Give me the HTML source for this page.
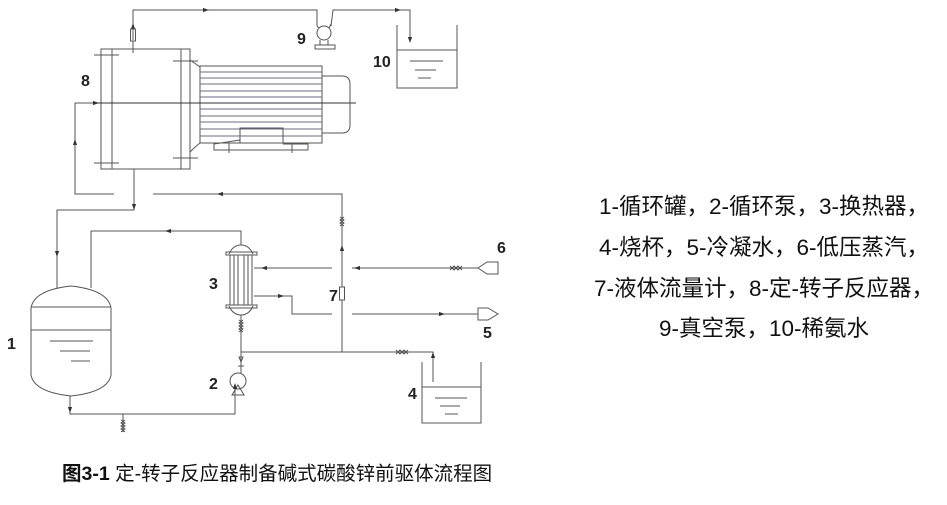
<!DOCTYPE html>
<html><head><meta charset="utf-8"><style>
body{margin:0;background:#fff;}
svg{display:block}
text{font-family:"Liberation Sans","Noto Sans CJK SC",sans-serif;}
</style></head><body>
<svg width="947" height="505" viewBox="0 0 947 505" xmlns="http://www.w3.org/2000/svg">
<defs>
<marker id="a" viewBox="0 0 10 10" refX="5" refY="5" markerWidth="8" markerHeight="6" orient="auto"><path d="M0,1.5 L10,5 L0,8.5z" fill="#333"/></marker>
</defs>
<g fill="none" stroke="#555" stroke-width="1">
<polyline points="133,40 133,10 317,10 317,26"/>
<path d="M190,10 L206,10" marker-end="url(#a)"/>
<path d="M133,32 L133,26" marker-end="url(#a)"/>
<rect x="130.5" y="29" width="5" height="12"/>
<line x1="133" y1="41" x2="133" y2="53"/>
<circle cx="324" cy="33" r="7"/>
<path d="M317,26 L319,28 M331,24 L329,28"/>
<path d="M320,40 L320,45 M328,40 L328,45"/>
<rect x="315" y="45" width="20" height="4"/>
<polyline points="331,26 333,10 410,10 410,40"/>
<path d="M385,10 L398,10" marker-end="url(#a)"/>
<path d="M410,30 L410,40" marker-end="url(#a)"/>
<polyline points="397,25 397,88 457,88 457,25"/>
<line x1="397" y1="50" x2="457" y2="50"/>
<line x1="410" y1="61" x2="443" y2="61"/><line x1="415" y1="70" x2="436" y2="70"/><line x1="418" y1="78" x2="431" y2="78"/>
<rect x="101" y="49" width="89" height="120"/>
<line x1="112" y1="49" x2="112" y2="169"/><line x1="181" y1="49" x2="181" y2="169"/>
<line x1="94" y1="55" x2="119" y2="55"/><line x1="94" y1="163" x2="119" y2="163"/>
<line x1="173" y1="61" x2="198" y2="61"/><line x1="173" y1="158" x2="198" y2="158"/>
<path d="M190,60 Q196,64 200,67 M190,152 Q196,146 200,143"/>
<rect x="200" y="66" width="122" height="77"/>
<g stroke="#6a6a8a">
<line x1="200" y1="72" x2="322" y2="72"/><line x1="200" y1="78" x2="322" y2="78"/><line x1="200" y1="84" x2="322" y2="84"/><line x1="200" y1="91" x2="322" y2="91"/><line x1="200" y1="97" x2="322" y2="97"/><line x1="200" y1="109" x2="322" y2="109"/><line x1="200" y1="116" x2="322" y2="116"/><line x1="200" y1="122" x2="322" y2="122"/><line x1="200" y1="129" x2="322" y2="129"/><line x1="200" y1="136" x2="322" y2="136"/>
</g>
<line x1="95" y1="103" x2="356" y2="103" stroke="#333"/>
<path d="M322,76 L342,76 Q350,76 350,84 L350,125 Q350,133 342,133 L322,133"/>
<path d="M240,143 L240,128 L283,128 L283,143"/>
<path d="M240,140 L214,144 L214,150 L308,150 L308,144 L283,144"/>
<line x1="229" y1="143" x2="229" y2="153"/><line x1="292" y1="143" x2="292" y2="153"/>
<polyline points="114,194 75,194 75,103 95,103"/>
<path d="M80,103 L96,103" marker-end="url(#a)"/>
<path d="M75,150 L75,142" marker-end="url(#a)"/>
<polyline points="153,194 342,194 342,352"/>
<path d="M230,194 L220,194" marker-end="url(#a)"/>
<polyline points="134,169 134,210 57,210 57,288"/>
<path d="M134,196 L134,207" marker-end="url(#a)"/>
<path d="M57,240 L57,254" marker-end="url(#a)"/>
<path d="M31,308 Q34,290 71,286 Q108,290 111,308 L111,375 Q108,392 71,396 Q34,392 31,375 Z"/>
<line x1="31" y1="307" x2="111" y2="307"/><line x1="31" y1="330" x2="111" y2="330"/>
<line x1="50" y1="341" x2="93" y2="341"/><line x1="60" y1="351" x2="90" y2="351"/><line x1="71" y1="361" x2="90" y2="361"/>
<polyline points="91,288 91,231 241,231 241,245"/>
<path d="M180,231 L168,231" marker-end="url(#a)"/>
<path d="M229,254 Q233,245 241,245 Q249,245 253,254"/>
<path d="M229,306 Q233,315 241,315 Q249,315 253,306"/>
<rect x="226" y="252" width="31" height="3"/>
<rect x="226" y="305" width="31" height="3"/>
<line x1="230" y1="255" x2="230" y2="305"/><line x1="234" y1="255" x2="234" y2="305"/><line x1="238" y1="255" x2="238" y2="305"/><line x1="244" y1="255" x2="244" y2="305"/><line x1="248" y1="255" x2="248" y2="305"/><line x1="252" y1="255" x2="252" y2="305"/>
<line x1="241" y1="315" x2="241" y2="352"/>
<path d="M239,320 L243,323 L239,326 L243,329 L239,332 M243,320 L239,323 L243,326 L239,329 L243,332"/>
<line x1="241" y1="352" x2="241" y2="373"/>
<path d="M239,357 L243,357 L241,362 Z M238,366 L244,366"/>
<circle cx="238" cy="381" r="8"/>
<path d="M232,395 L238,385 L244,395 Z"/>
<path d="M235,397 L235,414 L70,414 L70,396"/>
<path d="M235,405 L235,386" marker-end="url(#a)"/>
<path d="M70,400 L70,410" marker-end="url(#a)"/>
<line x1="123" y1="414" x2="123" y2="432"/>
<path d="M121,420 L125,423 L121,426 L125,429 L121,432 M125,420 L121,423 L125,426 L121,429 L125,432"/>
<polyline points="241,352 433,352 433,382"/>
<path d="M396,350 L400,354 L404,350 L408,354 M396,354 L400,350 L404,354 L408,350"/>
<path d="M433,362 L433,355" marker-end="url(#a)"/>
<polyline points="422,362 422,423 481,423 481,362"/>
<line x1="422" y1="387" x2="481" y2="387"/>
<line x1="435" y1="398" x2="467" y2="398"/><line x1="440" y1="406" x2="460" y2="406"/><line x1="445" y1="414" x2="458" y2="414"/>
<path d="M340,217 L344,220 L340,223 L344,226 M344,217 L340,220 L344,223 L340,226"/>
<path d="M342,258 L342,248" marker-end="url(#a)"/>
<rect x="339.5" y="287" width="5" height="13" fill="#fff"/>
<polyline points="478,268 352,268"/>
<polyline points="332,268 254,268"/>
<path d="M365,268 L357,268" marker-end="url(#a)"/>
<path d="M275,268 L264,268" marker-end="url(#a)"/>
<path d="M450,266 L454,270 L458,266 L462,270 M450,270 L454,266 L458,270 L462,266"/>
<path d="M478,268 L487,262 L498,262 L498,274 L487,274 Z"/>
<polyline points="254,296 292,296 292,314 332,314"/>
<path d="M270,296 L281,296" marker-end="url(#a)"/>
<polyline points="352,314 478,314"/>
<path d="M430,314 L442,314" marker-end="url(#a)"/>
<path d="M478,308 L488,308 L498,314 L488,320 L478,320 Z"/>
</g>
<g font-size="16" font-weight="bold" fill="#222">
<text x="81" y="86">8</text><text x="297" y="44">9</text><text x="373" y="67">10</text>
<text x="7" y="349">1</text><text x="209" y="289">3</text><text x="209" y="389">2</text>
<text x="329" y="301">7</text><text x="497" y="253">6</text><text x="483" y="338">5</text><text x="408" y="399">4</text>
</g>
<g font-size="22.5" fill="#111" text-anchor="middle">
<text x="764" y="214">1-循环罐，2-循环泵，3-换热器，</text>
<text x="764" y="255">4-烧杯，5-冷凝水，6-低压蒸汽，</text>
<text x="764" y="296">7-液体流量计，8-定-转子反应器，</text>
<text x="764" y="336">9-真空泵，10-稀氨水</text>
</g>
<text x="62" y="480" font-size="19.5" fill="#111"><tspan font-weight="bold">图3-1</tspan> 定-转子反应器制备碱式碳酸锌前驱体流程图</text>
</svg>
</body></html>
